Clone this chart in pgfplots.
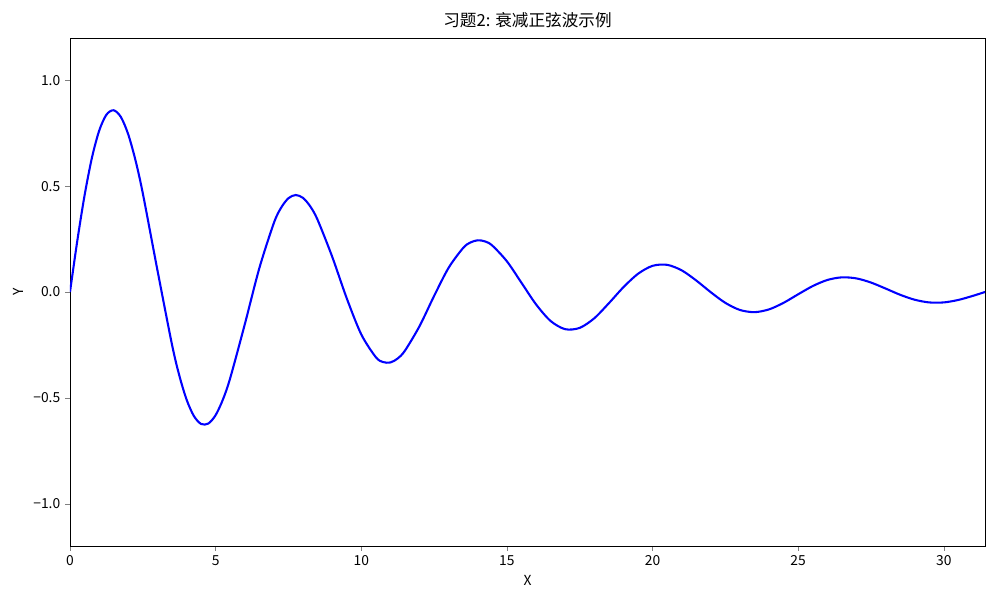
\documentclass[border=0pt]{standalone}
\usepackage{pgfplots}
\pgfplotsset{compat=1.18}
\usepackage{fontspec}
\setmainfont{Noto Sans CJK SC}
\begin{document}
\begin{tikzpicture}
\begin{axis}[
  scale only axis,
  width=9.15in, height=5.08in,
  xmin=0, xmax=31.4159, ymin=-1.2, ymax=1.2,
  xtick={0,5,10,15,20,25,30},
  ytick={-1,-0.5,0,0.5,1},
  yticklabels={−1.0,−0.5,0.0,0.5,1.0},
  /pgf/number format/assume math mode=true,
  tick label style={font=\fontsize{10}{12}\selectfont},
  label style={font=\fontsize{10}{12}\selectfont},
  title style={font=\fontsize{12}{14}\selectfont, yshift=-2pt},
  title={习题2: 衰减正弦波示例},
  xlabel={X}, ylabel={Y},
  tick align=outside,
  xtick pos=bottom, ytick pos=left,
  major tick length=3.5pt,
  axis line style={line width=0.6pt},
]
\addplot[blue, line width=1.5pt, smooth] coordinates {
(0,0) (0.25,0.24129) (0.5,0.45605) (0.75,0.63238) (1.0,0.76140) (1.25,0.83748)
(1.5,0.85855) (1.75,0.82602) (2.0,0.74447) (2.25,0.62131) (2.5,0.46609)
(3.0,0.10455) (3.5,-0.24719) (3.75,-0.39283) (4.0,-0.50730) (4.25,-0.58512)
(4.5,-0.62330) (4.75,-0.62145) (5.0,-0.58162) (5.25,-0.50811)
(5.5,-0.40706) (6.0,-0.15335) (6.5,0.11230) (7.0,0.32625) (7.25,0.39851)
(7.5,0.44308) (7.75,0.45821)
(8.0,0.44455) (8.25,0.40431) (8.5,0.34128) (9.0,0.16755) (9.5,-0.02906) (10.0,-0.20013)
(10.5,-0.30784) (10.75,-0.33106) (11.0,-0.33287) (11.25,-0.31420) (11.5,-0.27720)
(12.0,-0.16161) (12.5,-0.01900)
(13.0,0.11451) (13.5,0.20837) (13.75,0.23412) (14.0,0.24428) (14.25,0.23898)
(14.5,0.21930) (15.0,0.14510)
(15.5,0.04383) (16.0,-0.05813) (16.5,-0.13682) (17.0,-0.17563) (17.5,-0.16953)
(18.0,-0.12414) (18.5,-0.05325) (19.0,0.02242) (19.5,0.08579) (20.0,0.12356)
(20.5,0.12837) (21.0,0.10246) (21.5,0.05449) (22.0,-0.00098) (22.5,-0.05135)
(23.0,-0.08484) (23.5,-0.09521) (24.0,-0.08215) (24.5,-0.05109) (25.0,-0.01086)
(25.5,0.02797) (26.0,0.05664) (26.5,0.06920) (27.0,0.06428) (27.5,0.04468)
(28.0,0.01647) (28.5,-0.01294) (29.0,-0.03651) (29.5,-0.04926) (30.0,-0.04919)
(30.5,-0.03756) (31.0,-0.01820) (31.4159,0)
};
\end{axis}
\path (current axis.south west) ++(-0.70in,-0.54in) coordinate (bl);
\path (current axis.north east) ++(0.15in,0.38in) coordinate (tr);
\useasboundingbox (bl) rectangle (tr);
\end{tikzpicture}
\end{document}
